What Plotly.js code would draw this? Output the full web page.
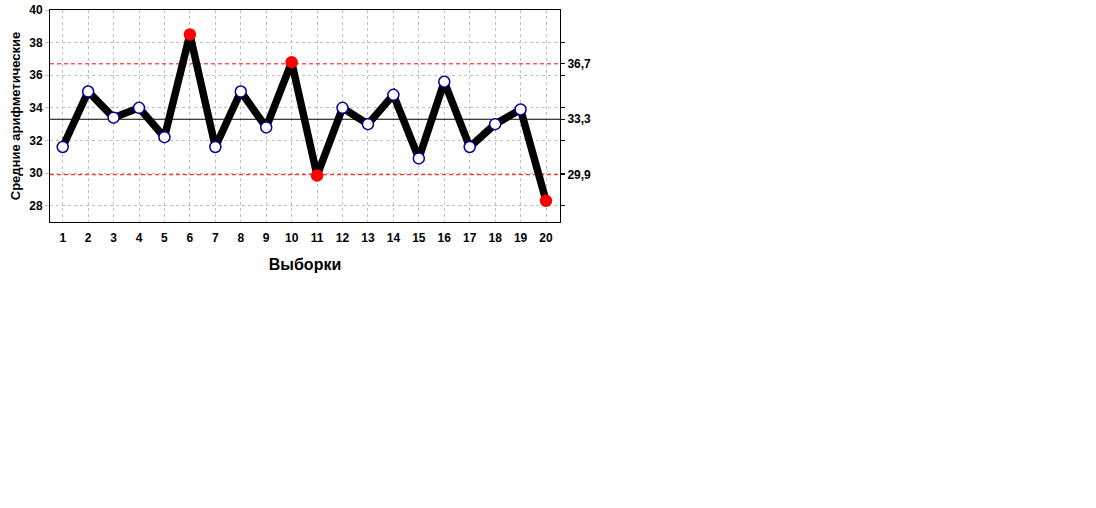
<!DOCTYPE html>
<html><head><meta charset="utf-8">
<script src="https://cdn.plot.ly/plotly-3.0.1.min.js"></script>
<style>body{margin:0;background:#fff}#c{width:1096px;height:508px}</style>
</head><body><div id="c"></div>
<script>
const samples = [1,2,3,4,5,6,7,8,9,10,11,12,13,14,15,16,17,18,19,20];
const means = [31.6,35.0,33.4,34.0,32.2,38.5,31.6,35.0,32.8,36.8,29.85,34.0,33.0,34.8,30.9,35.6,31.6,33.0,33.9,28.3];
const outOfControl = [0,0,0,0,0,1,0,0,0,1,1,0,0,0,0,0,0,0,0,1];
const centerLine = 33.3;
const ucl = 36.7;
const lcl = 29.9;
const limitLabels = ['29,9','33,3','36,7'];
const yTicks = [28,30,32,34,36,38,40];

const font = {family:'"Liberation Sans", Arial, sans-serif', size:12, color:'#000'};
const xs = [samples[0]-0.5, samples[samples.length-1]+0.6];

const traces = [
  {x:xs, y:[ucl,ucl], mode:'lines', line:{color:'#ff0000', width:1, dash:'4px,3px'}, hoverinfo:'skip'},
  {x:xs, y:[lcl,lcl], mode:'lines', line:{color:'#ff0000', width:1, dash:'4px,3px'}, hoverinfo:'skip'},
  {x:xs, y:[centerLine,centerLine], mode:'lines', line:{color:'#000', width:1}, hoverinfo:'skip'},
  {x:samples, y:means, mode:'lines+markers', line:{color:'#000', width:7.5},
   marker:{size:11,
     color: outOfControl.map(f => f ? '#ff0000' : '#ffffff'),
     line:{width:1.5, color: outOfControl.map(f => f ? '#ff0000' : '#000099')}}}
];

const rightVals = yTicks.slice(0,6).concat([lcl,centerLine,ucl]);
const rightText = yTicks.slice(0,6).map(() => '').concat(limitLabels);

const layout = {
  width:1096, height:508, showlegend:false,
  paper_bgcolor:'#fff', plot_bgcolor:'#fff',
  margin:{l:50, t:10, r:536, b:286},
  font: font,
  xaxis:{range:[0.5,20.55], tickvals:samples, ticktext:samples.map(String),
    showgrid:true, gridcolor:'#c0c0c0', griddash:'dot', gridwidth:1,
    showline:true, linecolor:'#000', linewidth:1, mirror:true,
    ticks:'outside', ticklen:5, tickcolor:'rgba(0,0,0,0)', zeroline:false,
    tickfont:{family:font.family, size:12, color:'#000', weight:'bold'},
    title:{text:'<b>Выборки</b>', font:{family:font.family, size:16, color:'#000'}, standoff:14}},
  yaxis:{range:[27,40], tickvals:yTicks,
    showgrid:true, gridcolor:'#c0c0c0', griddash:'dot', gridwidth:1,
    showline:true, linecolor:'#000', linewidth:1,
    ticks:'outside', ticklen:4, tickcolor:'#c0c0c0', zeroline:false,
    tickfont:{family:font.family, size:12, color:'#000', weight:'bold'},
    title:{text:'<b>Средние арифметические</b>', font:{family:font.family, size:13, color:'#000'}, standoff:5}},
  yaxis2:{range:[27,40], overlaying:'y', side:'right', tickvals:rightVals, ticktext:rightText,
    showgrid:false, showline:true, linecolor:'#000', linewidth:1,
    ticks:'outside', ticklen:4, tickcolor:'#000', zeroline:false,
    tickfont:{family:font.family, size:12, color:'#000', weight:'bold'}}
};
traces.push({x:[samples[0]], y:[centerLine], yaxis:'y2', mode:'markers', marker:{opacity:0}, hoverinfo:'skip'});
Plotly.newPlot('c', traces, layout, {staticPlot:true});
</script></body></html>
